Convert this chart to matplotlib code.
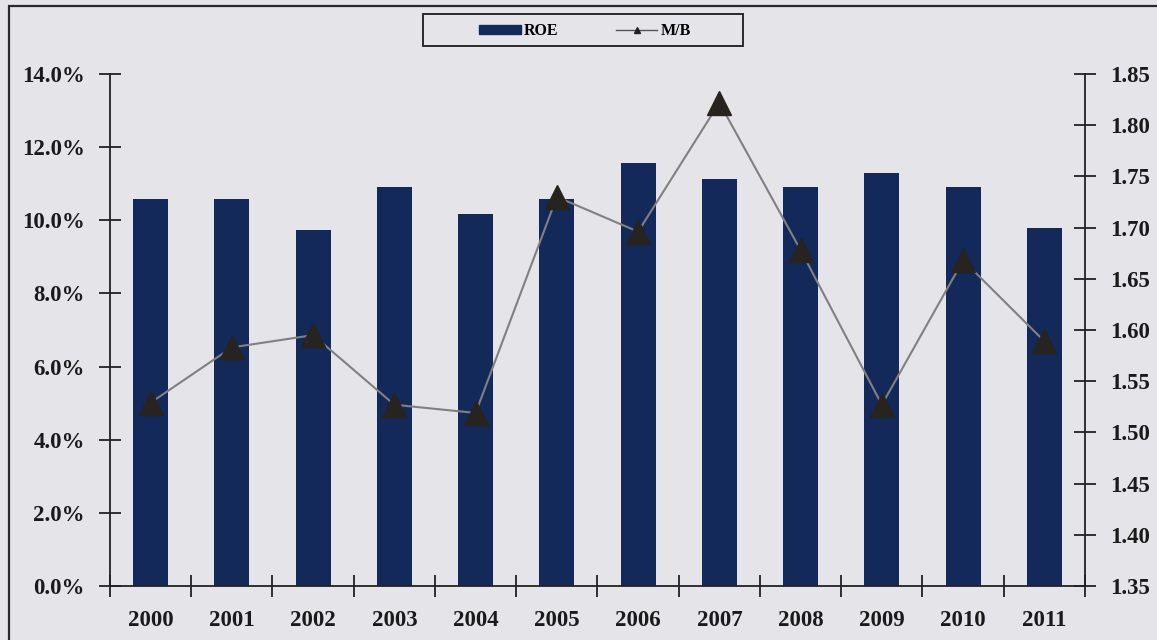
import matplotlib.pyplot as plt
from matplotlib.patches import Rectangle, Patch
from matplotlib.lines import Line2D
from matplotlib.ticker import FuncFormatter, FixedLocator

years = ['2000', '2001', '2002', '2003', '2004', '2005',
         '2006', '2007', '2008', '2009', '2010', '2011']
roe = [10.58, 10.58, 9.73, 10.91, 10.17, 10.58,
       11.57, 11.13, 10.91, 11.29, 10.91, 9.79]
mb = [1.529, 1.583, 1.595, 1.527, 1.519, 1.730,
      1.696, 1.822, 1.678, 1.527, 1.668, 1.589]

bg = '#e5e5e9'
navy = '#12295a'
plt.rcParams['font.family'] = 'Liberation Serif'
plt.rcParams['font.weight'] = 'bold'

fig = plt.figure(figsize=(11.57, 6.4), dpi=100, facecolor=bg)
ax = fig.add_axes([110 / 1157, 54 / 640, 975 / 1157, 512 / 640])
ax.set_facecolor('none')
ax2 = ax.twinx()

x = list(range(len(years)))
ax.bar(x, roe, width=0.43, color=navy, zorder=2)
ax2.plot(x, mb, color='#808080', lw=1.5, marker='^', markersize=17,
         markerfacecolor='#27231f', markeredgecolor='#27231f', zorder=3)

ax.set_xlim(-0.5, len(years) - 0.5)
ax.set_ylim(0, 14)
ax2.set_ylim(1.35, 1.85)
ax.set_yticks([0, 2, 4, 6, 8, 10, 12, 14])
ax.yaxis.set_major_formatter(FuncFormatter(lambda v, p: f'{v:.1f}%'))
ax2.set_yticks([1.35 + 0.05 * i for i in range(11)])
ax2.yaxis.set_major_formatter(FuncFormatter(lambda v, p: f'{v:.2f}'))

# category boundaries get the tick marks, year labels sit between them
ax.xaxis.set_major_locator(FixedLocator([i - 0.5 for i in range(len(years) + 1)]))
ax.xaxis.set_major_formatter(FuncFormatter(lambda v, p: ''))
ax.xaxis.set_minor_locator(FixedLocator(x))
ax.set_xticklabels(years, minor=True)

for a in (ax, ax2):
    a.spines['top'].set_visible(False)
    for s in a.spines.values():
        s.set_linewidth(1.3)
        s.set_color('#222222')
ax.spines['right'].set_visible(False)
ax2.spines['left'].set_visible(False)
ax2.spines['bottom'].set_visible(False)

fs = 16.5
ax.tick_params(axis='both', which='major', direction='inout', length=16,
               width=1.3, color='#222222', labelsize=fs, pad=10)
ax.tick_params(axis='x', which='minor', length=0, labelsize=fs, pad=17)
ax2.tick_params(axis='y', direction='inout', length=16, width=1.3,
                color='#222222', labelsize=fs, pad=10)
for lab in ax.get_yticklabels() + ax2.get_yticklabels() + ax.get_xticklabels(minor=True):
    lab.set_color('#1a1a1a')

# outer chart frame
fig.patches.append(Rectangle((9 / 1157, -0.02), 1.2, 1.02 - 6 / 640,
                             transform=fig.transFigure, fill=False,
                             edgecolor='#2a2a2a', lw=1.6))

# legend box
fig.patches.append(Rectangle((423 / 1157, 1 - 46 / 640), 320 / 1157, 32 / 640,
                             transform=fig.transFigure, fill=False,
                             edgecolor='#2a2a2a', lw=1.4))
handles = [Patch(facecolor=navy, edgecolor=navy),
           Line2D([], [], color='#555555', lw=1.0, marker='^', markersize=5,
                  markerfacecolor='#222222', markeredgecolor='#222222')]
fig.legend(handles, ['ROE', 'M/B'], loc='center',
           bbox_to_anchor=(585 / 1157, 1 - 31 / 640), ncol=2, frameon=False,
           fontsize=11.5, handlelength=2.6, handleheight=0.55,
           handletextpad=0.2, columnspacing=3.6)

fig.savefig('out.png', dpi=100, facecolor=bg)
